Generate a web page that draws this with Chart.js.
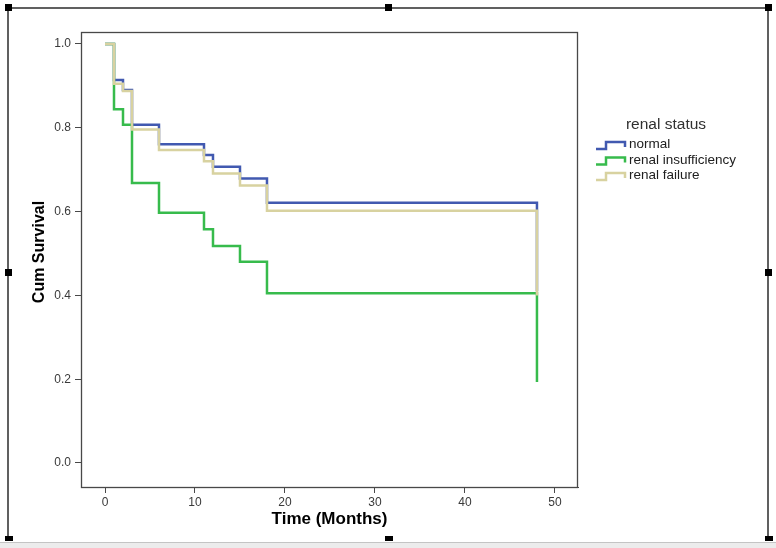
<!DOCTYPE html>
<html>
<head>
<meta charset="utf-8">
<script src="https://cdn.jsdelivr.net/npm/chart.js@4/dist/chart.umd.min.js"></script>
<style>
  html, body { margin: 0; padding: 0; background: #ffffff; }
  #wrap { position: relative; width: 776px; height: 548px; overflow: hidden; }
  #c { position: absolute; left: 0; top: 0; }
  .ln { position: absolute; background: #606060; }
  .hd { position: absolute; background: #000000; }
  #bar { position: absolute; left: 0; top: 542px; width: 776px; height: 6px; background: #ececec; border-top: 1px solid #c4c4c4; }
</style>
</head>
<body>
<div id="wrap">
  <canvas id="c" width="776" height="548"></canvas>
  <div class="ln" style="left:7px; top:7px; width:761px; height:2px;"></div>
  <div class="ln" style="left:7px; top:7px; width:2px; height:533px;"></div>
  <div class="ln" style="left:767px; top:7px; width:2px; height:533px;"></div>
  <div id="bar"></div>
  <div class="hd" style="left:5px; top:4px; width:7px; height:7px;"></div>
  <div class="hd" style="left:385px; top:4px; width:7px; height:7px;"></div>
  <div class="hd" style="left:765px; top:4px; width:7px; height:7px;"></div>
  <div class="hd" style="left:5px; top:269px; width:7px; height:7px;"></div>
  <div class="hd" style="left:765px; top:269px; width:7px; height:7px;"></div>
  <div class="hd" style="left:5px; top:536px; width:8px; height:5px;"></div>
  <div class="hd" style="left:385px; top:536px; width:8px; height:5px;"></div>
  <div class="hd" style="left:765px; top:536px; width:8px; height:5px;"></div>
</div>
<script>
// ---- data (Kaplan-Meier steps) ----
const timeMonths   = [0, 1, 2, 3, 6, 11, 12, 15, 18, 48];
const survNormal   = [1.0, 0.914, 0.890, 0.807, 0.761, 0.735, 0.707, 0.679, 0.621, 0.41];
const survInsuff   = [1.0, 0.844, 0.807, 0.668, 0.597, 0.558, 0.518, 0.480, 0.405, 0.193];
const survFailure  = [1.0, 0.905, 0.888, 0.796, 0.747, 0.720, 0.691, 0.662, 0.602, 0.40];
const seriesLabels = ['normal', 'renal insufficiency', 'renal failure'];
const legendTitle  = 'renal status';
const xTickValues  = [0, 10, 20, 30, 40, 50];
const yTickValues  = [0.0, 0.2, 0.4, 0.6, 0.8, 1.0];
const xTitle = 'Time (Months)';
const yTitle = 'Cum Survival';

const seriesValues = [survNormal, survInsuff, survFailure];
const seriesColors = ['#4159b0', '#37bb4c', '#d8d2a0'];
const drawOrder    = [3, 2, 1];

const FONT = '"Liberation Sans", Arial, sans-serif';

const datasets = seriesValues.map((vals, i) => ({
  label: seriesLabels[i],
  data: timeMonths.map((t, j) => ({ x: t, y: vals[j] })),
  borderColor: seriesColors[i],
  backgroundColor: seriesColors[i],
  borderWidth: 2.5,
  pointRadius: 0,
  fill: false,
  tension: 0,
  stepped: true,
  order: drawOrder[i],
  borderCapStyle: 'butt',
  borderJoinStyle: 'miter'
}));

const decor = {
  id: 'decor',
  afterDraw(chart) {
    const ctx = chart.ctx;
    const a = chart.chartArea;
    ctx.save();
    // plot frame
    ctx.strokeStyle = '#484848';
    ctx.lineWidth = 1.3;
    ctx.strokeRect(Math.round(a.left) + 0.5, Math.round(a.top) + 0.5,
                   Math.round(a.right - a.left) - 1, Math.round(a.bottom - a.top));
    // y axis title
    ctx.fillStyle = '#000000';
    ctx.font = 'bold 16px ' + FONT;
    ctx.textAlign = 'center';
    ctx.textBaseline = 'middle';
    ctx.translate(40, 252);
    ctx.rotate(-Math.PI / 2);
    ctx.fillText(yTitle, 0, 0);
    ctx.restore();

    // legend
    ctx.save();
    ctx.fillStyle = '#303030';
    ctx.font = '15.5px ' + FONT;
    ctx.textAlign = 'center';
    ctx.textBaseline = 'middle';
    ctx.fillText(legendTitle, 666, 125);
    ctx.font = '13.5px ' + FONT;
    ctx.textAlign = 'left';
    chart.data.datasets.forEach((ds, i) => {
      const y = 144 + i * 15.5;
      ctx.strokeStyle = ds.borderColor;
      ctx.lineWidth = 2.5;
      ctx.beginPath();
      ctx.moveTo(596, y + 5);
      ctx.lineTo(606, y + 5);
      ctx.lineTo(606, y - 2);
      ctx.lineTo(625, y - 2);
      ctx.lineTo(625, y + 3);
      ctx.stroke();
      ctx.fillStyle = '#202020';
      ctx.fillText(ds.label, 629, y + 0.5);
    });
    ctx.restore();
  }
};

new Chart(document.getElementById('c'), {
  type: 'line',
  data: { datasets },
  plugins: [decor],
  options: {
    responsive: false,
    animation: false,
    devicePixelRatio: 1,
    layout: { padding: { top: 32, right: 198, left: 0, bottom: 0 } },
    plugins: { legend: { display: false }, tooltip: { enabled: false }, title: { display: false } },
    scales: {
      x: {
        type: 'linear',
        min: -2.667,
        max: 52.56,
        afterFit(s) { s.height = 61; },
        afterBuildTicks(s) { s.ticks = xTickValues.map(v => ({ value: v })); },
        grid: { display: true, drawOnChartArea: false, drawTicks: true, tickLength: 6, color: '#484848' },
        border: { display: true, color: '#484848' },
        ticks: { color: '#3a3a3a', font: { family: FONT, size: 12 }, padding: 2, maxRotation: 0,
                 callback: v => String(v) },
        title: { display: true, text: xTitle, color: '#000000',
                 font: { family: FONT, size: 17, weight: 'bold' }, padding: { top: 0, bottom: 18 } }
      },
      y: {
        type: 'linear',
        min: -0.0573,
        max: 1.0286,
        afterFit(s) { s.width = 81; },
        afterBuildTicks(s) { s.ticks = yTickValues.map(v => ({ value: v })); },
        grid: { display: true, drawOnChartArea: false, drawTicks: true, tickLength: 6, color: '#484848' },
        border: { display: true, color: '#484848' },
        ticks: { color: '#3a3a3a', font: { family: FONT, size: 12 }, padding: 4,
                 callback: v => Number(v).toFixed(1) }
      }
    }
  }
});
</script>
</body>
</html>
